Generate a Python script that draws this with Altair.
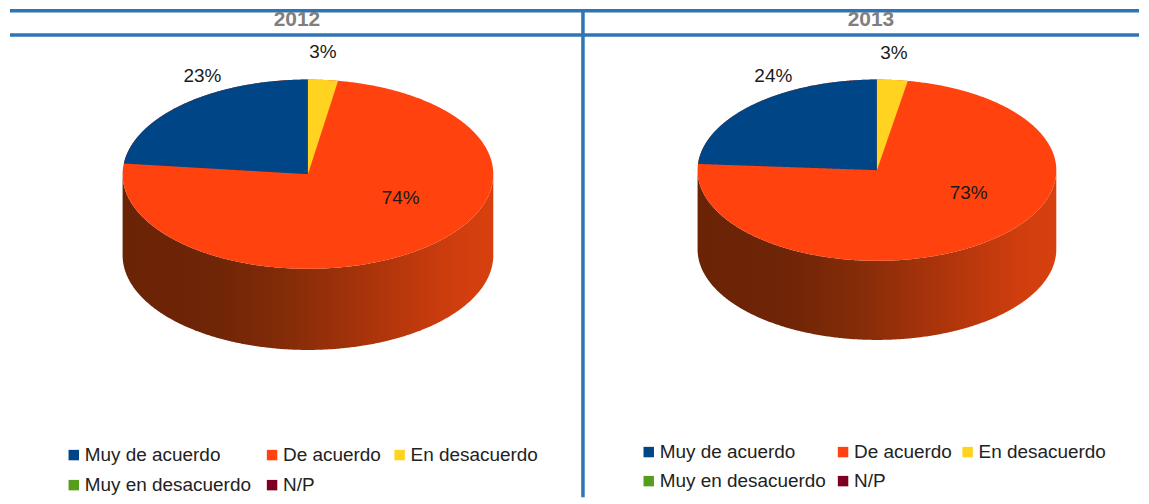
import math
import altair as alt
import pandas as pd

# --- data ---
years = ["2012", "2013"]
categories = ["Muy de acuerdo", "De acuerdo", "En desacuerdo", "Muy en desacuerdo", "N/P"]
colors = ["#004586", "#ff420e", "#ffd320", "#579d1c", "#7e0021"]
shares_2012 = [23.2, 74.2, 2.6]
shares_2013 = [23.9, 73.35, 2.75]

W, H = 1133, 488
YTOP, YMAX = 10.4, 496
XMAX = 8 + W
XS = alt.Scale(domain=[8, XMAX], nice=False, zero=False)
X = alt.X("x:Q", axis=None, scale=XS)
Y = alt.Y("y:Q", axis=None, scale=alt.Scale(domain=[YMAX, YTOP], nice=False, zero=False))
Y2 = alt.Y2("y2:Q")
COL = alt.Color("cat:N", legend=None, scale=alt.Scale(domain=categories, range=colors))
FONT = "Liberation Sans"

side_fill = alt.Gradient(
    gradient="linear", x1=0, x2=1, y1=0, y2=0,
    stops=[
        alt.GradientStop(offset=0.0, color="#6b2306"),
        alt.GradientStop(offset=0.25, color="#6f2506"),
        alt.GradientStop(offset=0.45, color="#852c08"),
        alt.GradientStop(offset=0.70, color="#b0350b"),
        alt.GradientStop(offset=0.90, color="#d03e0e"),
        alt.GradientStop(offset=1.0, color="#d8400e"),
    ],
)


def pie(shares, cx, cy, rx, ry, depth):
    px = lambda d: cx + rx * math.sin(math.radians(d))
    py = lambda d: cy - ry * math.cos(math.radians(d))
    blue = shares[0] * 3.6
    yellow = shares[2] * 3.6
    half = [-90 + i * 0.5 for i in range(361)]
    side = pd.DataFrame([
        {"x": px(d), "y": cy + ry * math.cos(math.radians(d)),
         "y2": cy + ry * math.cos(math.radians(d)) + depth} for d in half])
    face = pd.DataFrame([
        {"x": px(d), "y": py(d), "y2": 2 * cy - py(d), "cat": categories[1]} for d in half])

    def wedge(a, b, cat, edge):
        ex, ey = px(edge), py(edge)
        rows = []
        n = 200
        for i in range(n + 1):
            d = a + (b - a) * i / n
            x = px(d)
            t = (x - cx) / (ex - cx)
            rows.append({"x": x, "y": py(d), "y2": cy + (ey - cy) * t, "cat": cat})
        return pd.DataFrame(rows)

    blue_df = wedge(-blue, 0, categories[0], -blue)
    yellow_df = wedge(0, yellow, categories[2], yellow)
    return [
        alt.Chart(side).mark_area(color=side_fill).encode(x=X, y=Y, y2=Y2),
        alt.Chart(face).mark_area().encode(x=X, y=Y, y2=Y2, color=COL),
        alt.Chart(blue_df).mark_area().encode(x=X, y=Y, y2=Y2, color=COL),
        alt.Chart(yellow_df).mark_area().encode(x=X, y=Y, y2=Y2, color=COL),
    ]


layers = []
layers += pie(shares_2012, 307, 173.5, 186, 94.5, 81)
layers += pie(shares_2013, 878, 169.5, 180, 90.5, 79)

# frame rules
rule_color = "#2e75b6"
frame = pd.DataFrame([
    {"x": 8, "x2": XMAX, "y": 10.4, "y2": 10.4},
    {"x": 8, "x2": XMAX, "y": 34.5, "y2": 34.5},
    {"x": 583, "x2": 583, "y": YTOP, "y2": YMAX},
])
layers.append(
    alt.Chart(frame).mark_rule(color=rule_color, strokeWidth=3.5).encode(
        x=X, x2=alt.X2("x2:Q"), y=Y, y2=Y2)
)

# headers
head = pd.DataFrame({"x": [296, 872], "y": [20, 20], "t": years})
layers.append(
    alt.Chart(head).mark_text(font=FONT, fontSize=21, fontWeight="bold", color="#7f7f7f",
                              align="center", baseline="middle")
    .encode(x=X, y=Y, text="t:N")
)

# value labels
labels = pd.DataFrame({
    "x": [201, 322, 400, 774, 895, 970],
    "y": [75, 52, 197, 75, 53, 192],
    "t": [f"{round(v)}%" for v in [shares_2012[0], shares_2012[2], shares_2012[1],
                                  shares_2013[0], shares_2013[2], shares_2013[1]]],
})
layers.append(
    alt.Chart(labels).mark_text(font=FONT, fontSize=19, color="#1a1a1a",
                                align="center", baseline="middle")
    .encode(x=X, y=Y, text="t:N")
)

# legends
leg_x_2012 = [72, 271, 399, 72, 271]
leg_y_2012 = [454, 454, 454, 484, 484]
leg_x_2013 = [649, 844, 969, 649, 844]
leg_y_2013 = [451, 451, 451, 480, 480]
leg = pd.DataFrame({
    "x": leg_x_2012 + leg_x_2013,
    "y": leg_y_2012 + leg_y_2013,
    "cat": categories * 2,
})
leg["tx"] = leg["x"] + 11
layers.append(
    alt.Chart(leg).mark_square(size=110, opacity=1, strokeWidth=0).encode(x=X, y=Y, color=COL)
)
layers.append(
    alt.Chart(leg).mark_text(font=FONT, fontSize=19, color="#222222",
                             align="left", baseline="middle")
    .encode(x=alt.X("tx:Q", axis=None, scale=XS), y=Y, text="cat:N")
)

chart = alt.layer(*layers).properties(
    width=W, height=H, padding=0, background="white"
).configure_view(stroke=None)

chart.save("out.html", embed_options={"renderer": "svg", "actions": False})
